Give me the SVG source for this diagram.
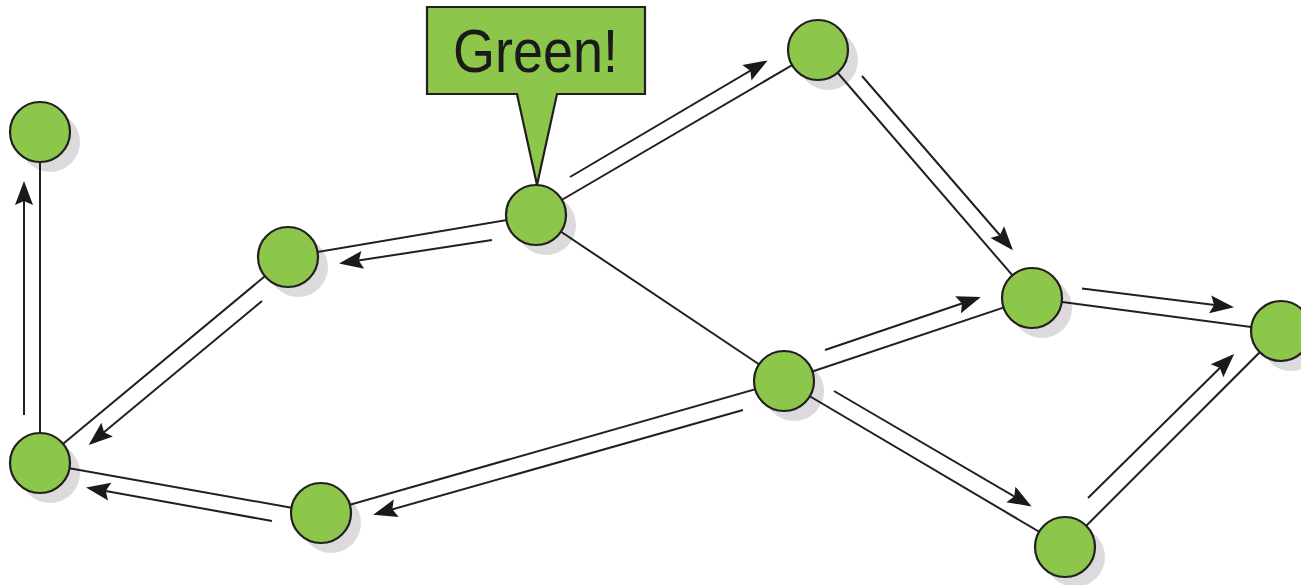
<svg xmlns="http://www.w3.org/2000/svg" width="1301" height="585" viewBox="0 0 1301 585">
<style>
.shadow{fill:#dcdadd;stroke:none}
.node{fill:#8cc64a;stroke:#231f20;stroke-width:2.2}
.edge{stroke:#231f20;stroke-width:2;fill:none}
.arrow{stroke:#231f20;stroke-width:2;fill:none;marker-end:url(#head)}
.callout{fill:#8cc64a;stroke:#231f20;stroke-width:2.2;stroke-linejoin:miter}
.label{font-family:"Liberation Sans",Arial,sans-serif;font-size:61px;fill:#1a1a1a}
</style>
<defs>
<marker id="head" markerWidth="30" markerHeight="24" refX="0" refY="0" orient="auto" markerUnits="userSpaceOnUse" overflow="visible">
<path d="M3,0 L-21,-9 L-17,0 L-21,9 Z" fill="#1a1a1a" stroke="none"/>
</marker>
</defs>
<rect width="1301" height="585" fill="#ffffff"/>
<g id="shadows">
<circle class="shadow" cx="50" cy="142" r="30"/>
<circle class="shadow" cx="298" cy="267" r="30"/>
<circle class="shadow" cx="546" cy="225" r="30"/>
<circle class="shadow" cx="828" cy="60" r="30"/>
<circle class="shadow" cx="1042" cy="308" r="30"/>
<circle class="shadow" cx="1291" cy="341" r="30"/>
<circle class="shadow" cx="794" cy="391" r="30"/>
<circle class="shadow" cx="1075" cy="557" r="30"/>
<circle class="shadow" cx="331" cy="523" r="30"/>
<circle class="shadow" cx="50" cy="473" r="30"/>
</g>
<g id="connectors">
<line class="edge" x1="40" y1="132" x2="40" y2="463"/>
<line class="edge" x1="40" y1="463" x2="288" y2="257"/>
<line class="edge" x1="288" y1="257" x2="536" y2="215"/>
<line class="edge" x1="536" y1="215" x2="818" y2="50"/>
<line class="edge" x1="536" y1="215" x2="784" y2="381"/>
<line class="edge" x1="818" y1="50" x2="1032" y2="298"/>
<line class="edge" x1="1032" y1="298" x2="1281" y2="331"/>
<line class="edge" x1="784" y1="381" x2="1032" y2="298"/>
<line class="edge" x1="784" y1="381" x2="1065" y2="547"/>
<line class="edge" x1="1065" y1="547" x2="1281" y2="331"/>
<line class="edge" x1="784" y1="381" x2="321" y2="513"/>
<line class="edge" x1="321" y1="513" x2="40" y2="463"/>
<line class="arrow" x1="24" y1="415" x2="24" y2="184"/>
<line class="arrow" x1="492" y1="240" x2="342" y2="263"/>
<line class="arrow" x1="262" y1="301" x2="91" y2="443"/>
<line class="arrow" x1="272" y1="521" x2="89" y2="488"/>
<line class="arrow" x1="743" y1="410" x2="376" y2="514"/>
<line class="arrow" x1="570" y1="177" x2="765" y2="62"/>
<line class="arrow" x1="862" y1="76" x2="1011" y2="248"/>
<line class="arrow" x1="825" y1="350" x2="978" y2="298"/>
<line class="arrow" x1="834" y1="391" x2="1029" y2="505"/>
<line class="arrow" x1="1082" y1="288.5" x2="1231" y2="307"/>
<line class="arrow" x1="1088" y1="498" x2="1232" y2="356"/>
</g>
<g id="n1"><circle class="node" cx="40" cy="132" r="30"/></g>
<g id="n2"><circle class="node" cx="288" cy="257" r="30"/></g>
<g id="n3"><circle class="node" cx="536" cy="215" r="30"/></g>
<g id="n4"><circle class="node" cx="818" cy="50" r="30"/></g>
<g id="n5"><circle class="node" cx="1032" cy="298" r="30"/></g>
<g id="n6"><circle class="node" cx="1281" cy="331" r="30"/></g>
<g id="n7"><circle class="node" cx="784" cy="381" r="30"/></g>
<g id="n8"><circle class="node" cx="1065" cy="547" r="30"/></g>
<g id="n9"><circle class="node" cx="321" cy="513" r="30"/></g>
<g id="n10"><circle class="node" cx="40" cy="463" r="30"/></g>
<g id="callout">
<path class="callout" d="M427,7 H645 V94 H557 L537,185 L517,94 H427 Z"/>
<text class="label" x="535.5" y="72" text-anchor="middle" textLength="165" lengthAdjust="spacingAndGlyphs">Green!</text>
</g>
</svg>
